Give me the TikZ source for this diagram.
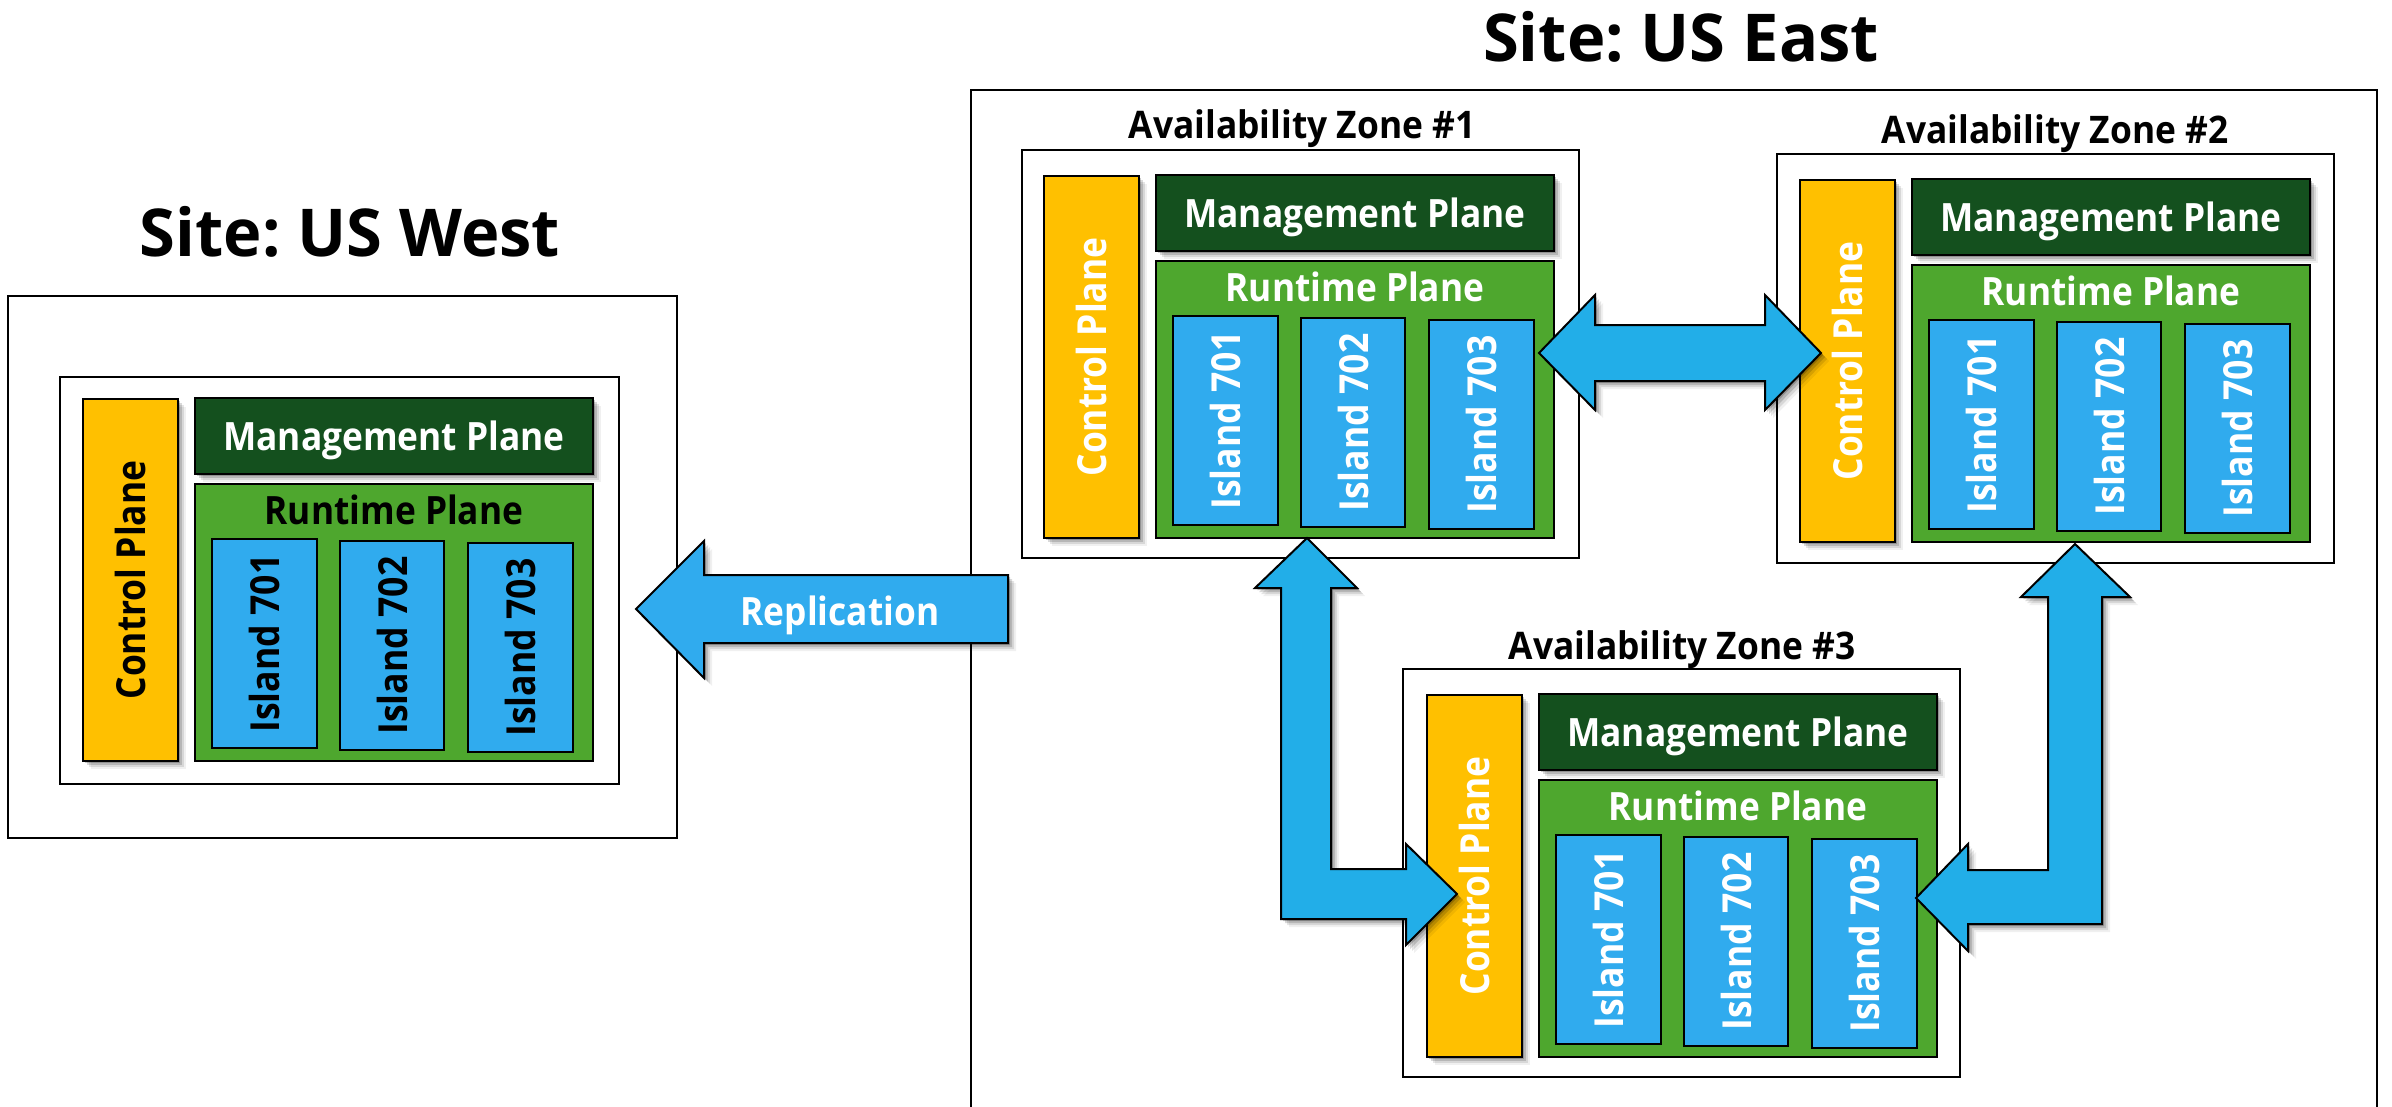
\documentclass[tikz,border=0pt]{standalone}
\usepackage{fontspec}
\setmainfont{Open Sans}
\newfontfamily\hfam{Open Sans}[FakeStretch=0.905]
\newfontfamily\zfam{Open Sans}[FakeStretch=0.93]
\newfontfamily\cfam{Open Sans}[FakeStretch=0.885]
\newfontfamily\ifam{Open Sans}[FakeStretch=0.89]
\newfontfamily\sfam{Open Sans}[FakeStretch=0.985]
\usetikzlibrary{shadows}
\definecolor{cyel}{HTML}{FFC000}
\definecolor{cdgr}{HTML}{14501E}
\definecolor{cgrn}{HTML}{4EA72E}
\definecolor{cblu}{HTML}{30ABEE}
\definecolor{carr}{HTML}{22AEE8}
\tikzset{
 softshadow/.style={
  drop shadow={shadow xshift=1pt,shadow yshift=-1pt,opacity=.2,fill=black},
  drop shadow={shadow xshift=2pt,shadow yshift=-2pt,opacity=.15,fill=black},
  drop shadow={shadow xshift=3pt,shadow yshift=-3pt,opacity=.1,fill=black},
  drop shadow={shadow xshift=4pt,shadow yshift=-4pt,opacity=.06,fill=black}},
 box/.style={draw=black,line width=1pt,inner sep=0pt,outer sep=0pt},
 frame/.style={box,fill=white},
 ctl/.style={box,fill=cyel,softshadow},
 mgt/.style={box,fill=cdgr,softshadow,text=white},
 run/.style={box,fill=cgrn},
 isl/.style={box,fill=cblu},
 lab/.style={font=\hfam\bfseries\fontsize{19.5}{22}\selectfont,inner sep=0pt},
 ctllab/.style={font=\cfam\bfseries\fontsize{20}{22}\selectfont,inner sep=0pt,rotate=90},
 isllab/.style={font=\ifam\bfseries\fontsize{20}{22}\selectfont,inner sep=0pt,rotate=90},
 zonelab/.style={font=\zfam\bfseries\fontsize{19}{22}\selectfont,inner sep=0pt,text=black},
 sitelab/.style={font=\sfam\bfseries\fontsize{33}{38}\selectfont,inner sep=0pt,text=black},
 arrowshape/.style={draw=black,line width=1pt,line join=miter,softshadow}
}
% #1 name, #2 x-offset, #3 y-offset, #4 text colour
\newcommand{\planes}[4]{%
 \begin{scope}[shift={(#2,#3)}]
  \node[ctl,minimum width=47.5pt,minimum height=181pt] (#1c) at (130.5,580) {};
  \node[ctllab,text=#4] at (#1c.center) {Control Plane};
  \node[mgt,minimum width=199pt,minimum height=38pt] (#1m) at (394,436) {};
  \node[lab,text=white] at (394,440) {Management Plane};
  \node[run,minimum width=199pt,minimum height=138.5pt] (#1r) at (394,622.5) {};
  \node[lab,text=#4] at (394,510) {Runtime Plane};
  \node[isl,minimum width=52.5pt,minimum height=104.5pt] (#1a) at (264.5,643.5) {};
  \node[isl,minimum width=52pt,minimum height=104.5pt] (#1b) at (392,645.5) {};
  \node[isl,minimum width=52.5pt,minimum height=104.5pt] (#1d) at (520.5,647.5) {};
  \node[isllab,text=#4] at (#1a.center) {Island 701};
  \node[isllab,text=#4] at (#1b.center) {Island 702};
  \node[isllab,text=#4] at (#1d.center) {Island 703};
 \end{scope}}
\begin{document}
\frenchspacing
\begin{tikzpicture}[x=0.5pt,y=-0.5pt]
\useasboundingbox (0,0) rectangle (2392,1107);
\clip (0,0) rectangle (2392,1107);
% west
\node[sitelab] (westlabel) at (350,232) {Site: US West};
\node[frame,minimum width=334.5pt,minimum height=271pt] (west) at (342.5,567) {};
\node[frame,minimum width=279.5pt,minimum height=203.5pt] (westz) at (339.5,580.5) {};
\planes{w}{0}{0}{black}
% east
\node[sitelab] (eastlabel) at (1681,37) {Site: US East};
\node[frame,minimum width=703pt,minimum height=600pt] (east) at (1674,690) {};
\node[zonelab] (z1l) at (1302,129) {Availability Zone \#1};
\node[frame,minimum width=278.5pt,minimum height=204pt] (z1) at (1300.5,354) {};
\planes{a}{961}{-223}{white}
\node[zonelab] (z2l) at (2055,134) {Availability Zone \#2};
\node[frame,minimum width=278.5pt,minimum height=204pt] (z2) at (2055,358.5) {};
\planes{b}{1717}{-219}{white}
\node[zonelab] (z3l) at (1682,650) {Availability Zone \#3};
\node[frame,minimum width=278.5pt,minimum height=204pt] (z3) at (1681,873) {};
\planes{c}{1344}{296}{white}
% arrows
\draw[arrowshape,fill=cblu] (636,609) -- (704,541) -- (704,575) -- (1008,575) -- (1008,643) -- (704,643) -- (704,678) -- cycle;
\node[lab,text=white] (repllab) at (840,615) {Replication};
\draw[arrowshape,fill=carr] (1539,353) -- (1595,295) -- (1595,325) -- (1765,325) -- (1765,295) -- (1821,353) -- (1765,410) -- (1765,381) -- (1595,381) -- (1595,410) -- cycle;
\draw[arrowshape,fill=carr] (1307,538) -- (1357,588) -- (1331,588) -- (1331,869) -- (1406,869) -- (1406,844) -- (1457,894) -- (1406,945) -- (1406,919) -- (1281,919) -- (1281,588) -- (1255,588) -- cycle;
\draw[arrowshape,fill=carr] (2075,544) -- (2130,597) -- (2102,597) -- (2102,924) -- (1968,924) -- (1968,951) -- (1916,898) -- (1968,844) -- (1968,870) -- (2048,870) -- (2048,597) -- (2021,597) -- cycle;
\end{tikzpicture}
\end{document}
